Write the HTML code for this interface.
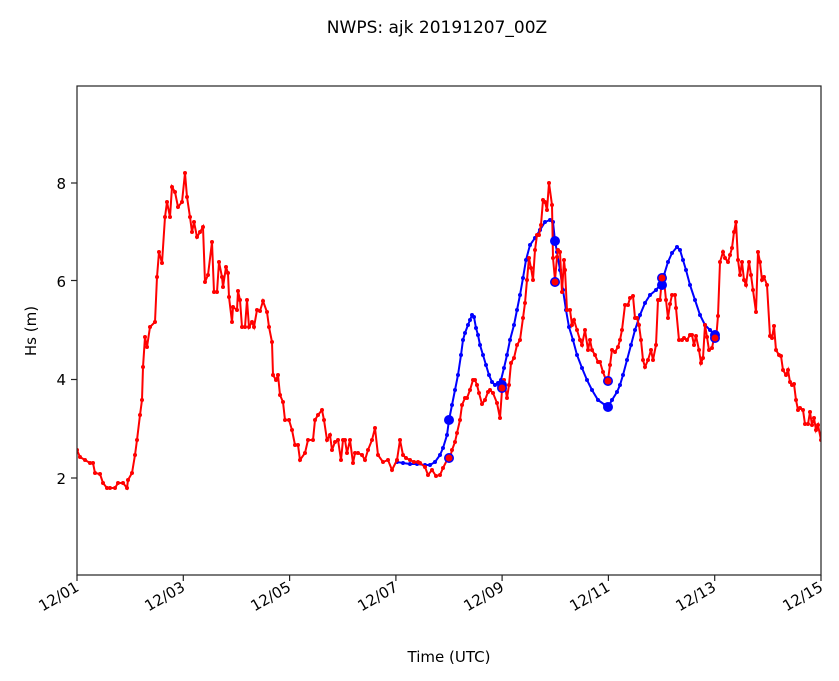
<!DOCTYPE html>
<html><head><meta charset="utf-8"><style>
body{margin:0;background:#fff;}
svg{display:block;font-family:"DejaVu Sans","Liberation Sans",sans-serif;}
</style></head><body>
<svg width="839" height="681" viewBox="0 0 839 681" xmlns="http://www.w3.org/2000/svg">
<defs>
<marker id="rd" markerUnits="userSpaceOnUse" markerWidth="6" markerHeight="6" refX="3" refY="3"><circle cx="3" cy="3" r="2" fill="#f00"/></marker>
<marker id="bd" markerUnits="userSpaceOnUse" markerWidth="6" markerHeight="6" refX="3" refY="3"><circle cx="3" cy="3" r="2" fill="#00f"/></marker>
<clipPath id="c"><rect x="77" y="86" width="744" height="489"/></clipPath>
</defs>
<text x="437" y="33" font-size="17" text-anchor="middle">NWPS: ajk 20191207_00Z</text>
<g clip-path="url(#c)">
<polyline fill="none" stroke="#00f" stroke-width="2" marker-start="url(#bd)" marker-mid="url(#bd)" marker-end="url(#bd)" points="397,462 403,463 410,464 417,464 425,465 430,465 435,462 440,455 443,448 447,435 449,420 452,405 455,390 458,375 461,355 463,340 465,333 468,325 470,320 472,315 474,317 476,328 478,335 480,345 483,355 486,365 489,375 492,382 495,385 498,383 501,380 504,368 507,355 510,340 514,325 517,310 520,295 523,278 526,260 530,245 535,238 540,230 545,222 550,220 553,222 555,241 557,252 560,270 563,290 566,310 569,327 573,340 577,355 582,368 587,380 592,390 598,400 605,405 608,407 612,400 617,392 620,385 623,375 627,360 631,345 635,330 640,315 645,303 650,295 656,290 660,285 664,275 668,262 672,253 677,247 680,250 683,260 686,270 690,285 695,300 700,315 705,325 710,330 715,335"/>
<polyline fill="none" stroke="#f00" stroke-width="2" marker-start="url(#rd)" marker-mid="url(#rd)" marker-end="url(#rd)" points="77,450 80,457 85,460 90,463 93,463 95,473 100,474 103,483 107,488 110,488 115,488 118,483 123,483 127,488 128,480 132,473 135,455 137,440 140,415 142,400 143,367 145,337 147,347 150,327 155,322 157,277 159,252 162,263 165,217 167,202 170,217 172,187 175,192 178,207 182,202 185,173 187,197 190,217 192,232 194,222 197,237 200,232 203,227 205,282 208,275 212,242 214,292 217,292 219,262 222,277 223,287 226,267 228,273 229,297 232,322 233,307 237,310 238,291 240,300 242,327 245,327 247,300 249,327 252,322 254,327 257,310 260,311 263,301 267,312 269,327 272,342 273,375 276,380 278,375 280,395 283,402 285,420 289,420 292,430 295,445 298,445 300,460 305,453 308,440 313,440 315,420 318,415 322,410 324,420 327,440 330,435 332,450 335,442 338,440 341,460 343,440 345,440 347,453 350,440 353,463 355,453 358,453 362,455 365,460 368,450 372,440 375,428 378,455 383,462 388,460 392,470 397,460 400,440 403,455 406,458 410,460 414,462 418,462 420,463 425,467 428,475 432,470 436,476 440,475 443,468 447,460 450,458 452,450 455,442 457,433 460,420 462,405 465,398 467,398 470,390 473,380 475,380 477,385 479,393 482,404 485,400 488,392 490,390 493,393 497,403 500,418 502,390 504,380 507,398 509,385 511,363 514,358 517,345 520,340 523,318 525,303 527,280 529,258 531,268 533,280 535,250 537,235 539,235 541,225 543,200 545,202 547,210 549,183 552,205 553,258 555,280 557,257 558,250 560,252 562,292 564,260 565,270 567,310 570,310 572,325 574,320 577,330 580,340 582,345 585,330 588,350 590,340 592,350 595,355 598,362 600,362 603,372 606,380 608,380 610,365 612,350 615,352 618,347 620,340 622,330 625,305 628,305 630,298 633,296 635,318 637,318 639,325 641,340 643,360 645,367 648,360 651,350 653,360 656,345 658,300 660,300 662,278 664,280 666,300 668,318 670,304 672,295 675,295 676,308 679,340 682,340 684,338 687,340 690,335 692,335 694,345 696,336 699,350 701,363 703,358 705,325 707,337 709,350 712,348 714,338 716,340 718,316 720,262 723,252 725,258 728,262 730,255 732,248 734,232 736,222 738,260 740,275 742,262 744,280 746,285 749,262 751,275 753,290 756,312 758,252 760,262 762,280 764,277 767,285 770,336 772,338 774,326 776,350 779,355 781,356 783,370 786,375 788,370 790,382 792,385 794,384 796,400 798,410 800,408 803,410 805,424 808,424 810,412 812,425 814,418 816,430 818,425 821,440"/>
<g fill="#00f"><circle cx="449" cy="420" r="5"/><circle cx="502" cy="385" r="5"/><circle cx="555" cy="241" r="5"/><circle cx="555" cy="282" r="5"/><circle cx="608" cy="407" r="5"/><circle cx="662" cy="285" r="5"/><circle cx="662" cy="278" r="5"/><circle cx="715" cy="335" r="5"/><circle cx="715" cy="338" r="5"/><circle cx="449" cy="458" r="5"/><circle cx="502" cy="388" r="5"/><circle cx="608" cy="381" r="5"/></g>
<g fill="#f00"><circle cx="449" cy="458" r="3.5"/><circle cx="502" cy="388" r="3.5"/><circle cx="555" cy="282" r="3.5"/><circle cx="608" cy="381" r="3.5"/><circle cx="662" cy="278" r="3.5"/><circle cx="715" cy="338" r="3.5"/></g>
</g>
<rect x="77" y="86" width="744" height="489" fill="none" stroke="#222" stroke-width="1.2"/>
<g stroke="#222" stroke-width="1.2">
<line x1="71" y1="478" x2="77" y2="478"/><line x1="71" y1="379.5" x2="77" y2="379.5"/><line x1="71" y1="280.5" x2="77" y2="280.5"/><line x1="71" y1="183" x2="77" y2="183"/>
<line x1="77" y1="575" x2="77" y2="581"/><line x1="183.3" y1="575" x2="183.3" y2="581"/><line x1="289.6" y1="575" x2="289.6" y2="581"/><line x1="395.9" y1="575" x2="395.9" y2="581"/><line x1="502.1" y1="575" x2="502.1" y2="581"/><line x1="608.4" y1="575" x2="608.4" y2="581"/><line x1="714.7" y1="575" x2="714.7" y2="581"/><line x1="821" y1="575" x2="821" y2="581"/>
</g>
<g font-size="15" text-anchor="end">
<text x="66" y="484">2</text><text x="66" y="385">4</text><text x="66" y="287">6</text><text x="66" y="189">8</text>
</g>
<g font-size="15" text-anchor="end">
<text transform="translate(80,590) rotate(-30)">12/01</text>
<text transform="translate(186,590) rotate(-30)">12/03</text>
<text transform="translate(292,590) rotate(-30)">12/05</text>
<text transform="translate(399,590) rotate(-30)">12/07</text>
<text transform="translate(505,590) rotate(-30)">12/09</text>
<text transform="translate(611,590) rotate(-30)">12/11</text>
<text transform="translate(717,590) rotate(-30)">12/13</text>
<text transform="translate(824,590) rotate(-30)">12/15</text>
</g>
<text x="449" y="662" font-size="15" text-anchor="middle">Time (UTC)</text>
<text transform="translate(36,331) rotate(-90)" font-size="15" text-anchor="middle">Hs (m)</text>
</svg>
</body></html>
